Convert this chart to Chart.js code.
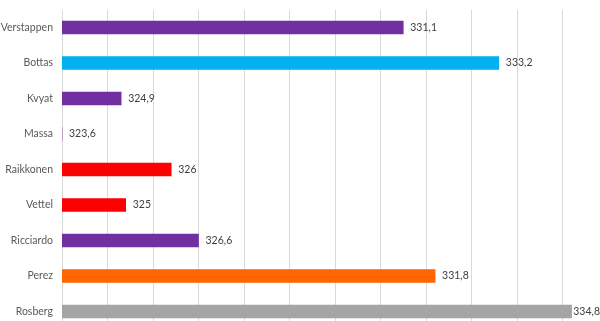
<!DOCTYPE html>
<html>
<head>
<meta charset="utf-8">
<script src="https://cdn.jsdelivr.net/npm/chart.js@4/dist/chart.umd.min.js"></script>
<style>
  html, body { margin: 0; padding: 0; background: #fff; overflow: hidden; }
  #wrap { width: 600px; height: 321px; overflow: hidden; }
</style>
</head>
<body>
<div id="wrap"><canvas id="myChart" width="620" height="330"></canvas></div>
<script>
// drivers, top to bottom
var drivers = ['Verstappen', 'Bottas', 'Kvyat', 'Massa', 'Raikkonen', 'Vettel', 'Ricciardo', 'Perez', 'Rosberg']
// top speed values
var speeds = [331.1, 333.2, 324.9, 323.6, 326, 325, 326.6, 331.8, 334.8]
var barColors = ['#7030A0', '#00B0F0', '#7030A0', '#7030A0', '#FF0000', '#FF0000', '#7030A0', '#FF6600', '#A5A5A5']
// axis range, gridline every unit from the minimum
var axisMin = 323.6
var axisMax = 335.6
var axisStep = 1

var gridValues = []
for (var v = axisMin; v <= axisMax + 0.001; v += axisStep) {
  gridValues.push(Math.round(v * 10) / 10)
}

// value labels at bar ends, comma decimals, kept inside the visible width
var valueLabels = {
  id: 'valueLabels',
  afterDatasetsDraw: function (chart) {
    var c = chart.ctx
    var meta = chart.getDatasetMeta(0)
    c.save()
    c.font = '10.5px Lato, sans-serif'
    c.fillStyle = '#404040'
    c.textBaseline = 'middle'
    c.textAlign = 'left'
    meta.data.forEach(function (bar, i) {
      var txt = String(speeds[i]).replace('.', ',')
      var x = Math.min(bar.x + 7, 600 - c.measureText(txt).width)
      c.fillText(txt, x, bar.y)
    })
    c.restore()
  }
}

var ctx = document.getElementById('myChart')
var myChart = new Chart(ctx, {
  type: 'bar',
  data: {
    labels: drivers,
    datasets: [{
      data: speeds,
      backgroundColor: barColors,
      borderWidth: 0,
      barThickness: 13
    }]
  },
  options: {
    indexAxis: 'y',
    responsive: false,
    animation: false,
    layout: { padding: { top: 9.75, bottom: 0.75, left: 0, right: 12 } },
    plugins: {
      legend: { display: false },
      tooltip: { enabled: false }
    },
    scales: {
      x: {
        min: axisMin,
        max: axisMax,
        afterBuildTicks: function (scale) {
          scale.ticks = gridValues.map(function (g) { return { value: g } })
        },
        afterFit: function (scale) {
          scale.height = 0
          scale.paddingLeft = 0
          scale.paddingRight = 0
        },
        ticks: { display: false },
        grid: { color: '#D9D9D9', lineWidth: 1, drawTicks: false },
        border: { display: false }
      },
      y: {
        afterFit: function (scale) {
          scale.width = 62
          scale.paddingTop = 0
          scale.paddingBottom = 0
        },
        ticks: {
          color: '#595959',
          font: { family: 'Lato, sans-serif', size: 10.5 },
          padding: 9
        },
        grid: { display: false, drawTicks: false },
        border: { display: false }
      }
    }
  },
  plugins: [valueLabels]
})
</script>
</body>
</html>
